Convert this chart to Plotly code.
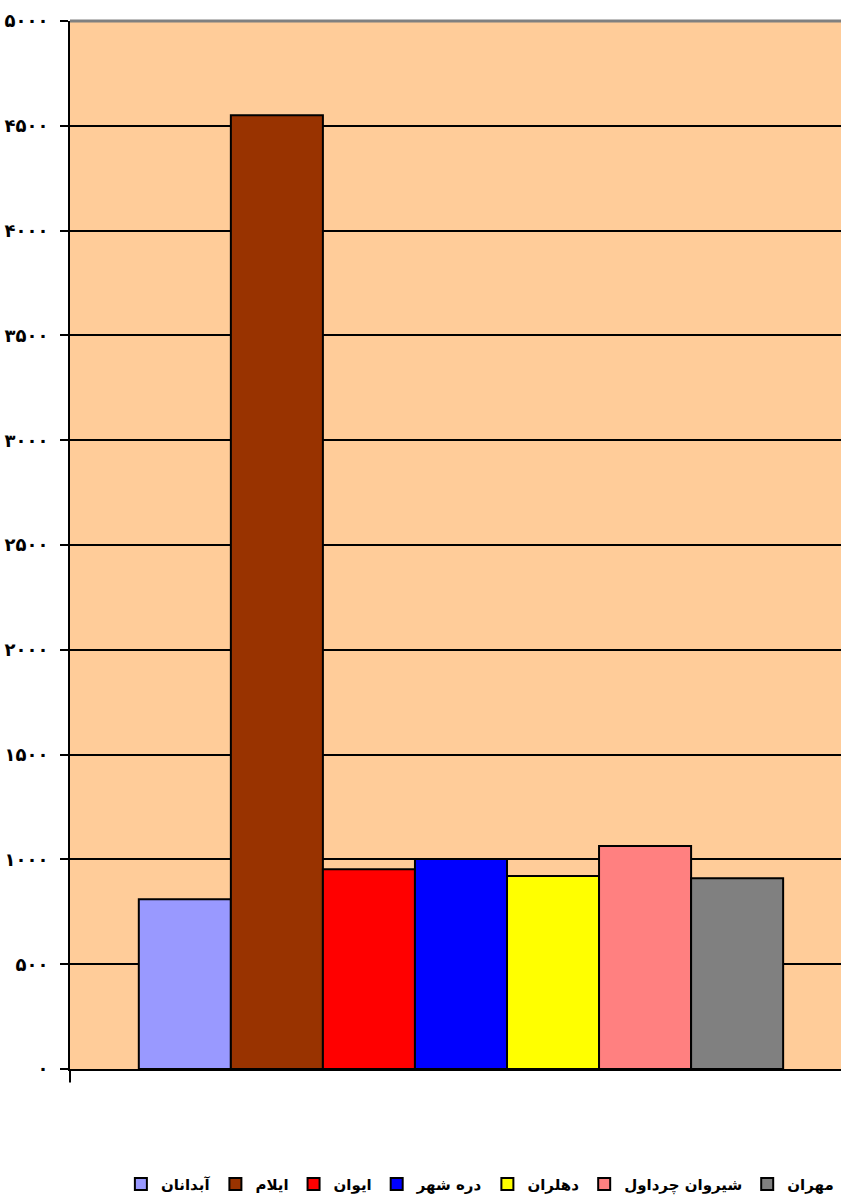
import plotly.graph_objects as go

cities = ["آبدانان", "ایلام", "ایوان", "دره شهر", "دهلران", "شیروان چرداول", "مهران"]
values = [810, 4550, 953, 1002, 921, 1064, 910]
colors = ["#9999FF", "#993300", "#FF0000", "#0000FF", "#FFFF00", "#FF8080", "#808080"]
tick_vals = [0, 500, 1000, 1500, 2000, 2500, 3000, 3500, 4000, 4500, 5000]
tick_text = ["۰", "۵۰۰", "۱۰۰۰", "۱۵۰۰", "۲۰۰۰", "۲۵۰۰", "۳۰۰۰", "۳۵۰۰", "۴۰۰۰", "۴۵۰۰", "۵۰۰۰"]

FONT = "DejaVu Sans, Noto Sans, sans-serif"

fig = go.Figure()
for name, v, c in zip(cities, values, colors):
    fig.add_trace(go.Bar(
        x=[0], y=[v], name=name,
        marker=dict(color=c, line=dict(color="black", width=2)),
    ))

fig.update_layout(
    width=841, height=1201,
    margin=dict(l=70, r=0, t=21, b=129),
    paper_bgcolor="white",
    plot_bgcolor="#FFCC99",
    barmode="group",
    bargap=0.176,
    bargroupgap=0,
    showlegend=True,
    legend=dict(
        orientation="h",
        x=0.066, xanchor="left",
        y=-0.11, yanchor="middle",
        font=dict(family=FONT, size=15, color="black", weight="bold"),
        itemsizing="constant",
        traceorder="normal",
        itemwidth=30,
    ),
    font=dict(family=FONT, color="black"),
    xaxis=dict(
        range=[-0.5, 0.486],
        showticklabels=False,
        showgrid=False,
        zeroline=False,
        showline=True, linecolor="black", linewidth=2,
        ticks="",
    ),
    yaxis=dict(
        range=[0, 5000],
        tickvals=tick_vals,
        ticktext=tick_text,
        tickfont=dict(family=FONT, size=18, color="black", weight="bold"),
        showgrid=True, gridcolor="black", gridwidth=1.5,
        zeroline=False,
        showline=True, linecolor="black", linewidth=2,
        ticks="outside", ticklen=8, tickwidth=2, tickcolor="black",
        ticklabelstandoff=8,
    ),
)

# gray top border of plot area
fig.add_shape(type="line", xref="paper", yref="paper", x0=0, x1=1, y0=1, y1=1,
              line=dict(color="#808080", width=3), layer="above")
# small extension of the value axis below the category axis
fig.add_shape(type="line", xref="paper", yref="paper", x0=0, x1=0, y0=0, y1=-0.013,
              line=dict(color="black", width=2), layer="above")

fig.write_html("out.html",
               config={"displayModeBar": False},
               post_script="document.body.style.margin='0';document.body.style.overflow='hidden';")
